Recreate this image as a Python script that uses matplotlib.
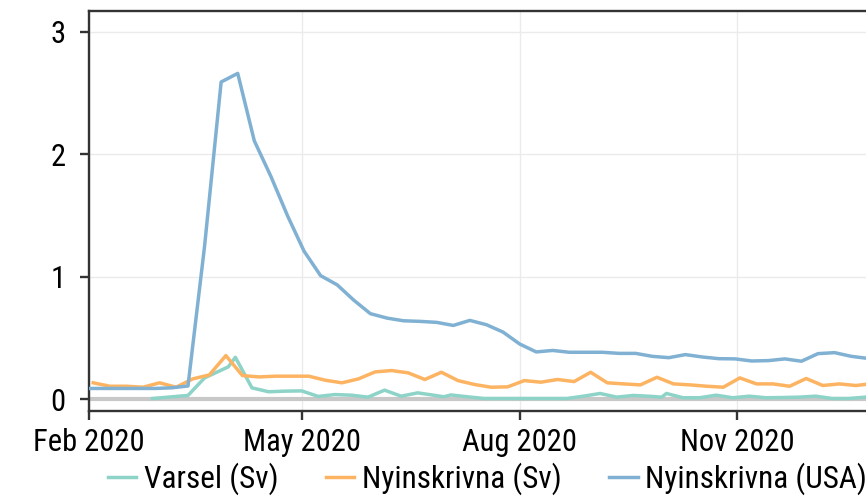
import matplotlib
matplotlib.use('Agg')
import numpy as np
import pandas as pd
from matplotlib import pyplot as plt

plt.rcParams['font.family'] = ['Roboto Condensed', 'Liberation Sans', 'DejaVu Sans']

# Nyinskrivna (USA), veckovis (lördagar)
usa_start = '2020-02-01'
usa_values = [0.09, 0.09, 0.09, 0.09, 0.09, 0.095, 0.11, 1.25, 2.59, 2.66,
              2.11, 1.82, 1.50, 1.21, 1.01, 0.935, 0.81, 0.70, 0.664, 0.642,
              0.637, 0.629, 0.604, 0.645, 0.61, 0.55, 0.453, 0.388, 0.40, 0.385,
              0.385, 0.385, 0.376, 0.376, 0.352, 0.341, 0.366, 0.347, 0.333, 0.331,
              0.314, 0.317, 0.331, 0.312, 0.374, 0.382, 0.352, 0.335]

# Nyinskrivna (Sv), veckovis (måndagar)
sv_start = '2020-02-03'
sv_values = [0.136, 0.108, 0.108, 0.10, 0.136, 0.10, 0.168, 0.20, 0.358, 0.195,
             0.184, 0.19, 0.19, 0.19, 0.157, 0.136, 0.168, 0.225, 0.236, 0.217,
             0.163, 0.222, 0.154, 0.122, 0.10, 0.103, 0.154, 0.141, 0.163, 0.146,
             0.222, 0.136, 0.127, 0.119, 0.181, 0.127, 0.119, 0.108, 0.10, 0.176,
             0.127, 0.127, 0.108, 0.171, 0.114, 0.127, 0.114, 0.13]

# Varsel (Sv)
varsel_dates = ['2020-02-28', '2020-03-14', '2020-03-21', '2020-03-31', '2020-04-03',
                '2020-04-10', '2020-04-17', '2020-04-24', '2020-05-01', '2020-05-08',
                '2020-05-15', '2020-05-22', '2020-05-29', '2020-06-05', '2020-06-12',
                '2020-06-19', '2020-06-26', '2020-06-30', '2020-07-03', '2020-07-10',
                '2020-07-17', '2020-07-24', '2020-07-31', '2020-08-07', '2020-08-14',
                '2020-08-21', '2020-08-28', '2020-09-04', '2020-09-11', '2020-09-18',
                '2020-09-25', '2020-09-30', '2020-10-02', '2020-10-09', '2020-10-16',
                '2020-10-23', '2020-10-30', '2020-11-06', '2020-11-13', '2020-11-20',
                '2020-11-27', '2020-12-04', '2020-12-11', '2020-12-18', '2020-12-25']
varsel_values = [0.008, 0.033, 0.176, 0.266, 0.344, 0.095, 0.063, 0.068, 0.07, 0.025,
                 0.04, 0.035, 0.019, 0.076, 0.027, 0.054, 0.034, 0.022, 0.037, 0.022,
                 0.008, 0.008, 0.008, 0.008, 0.008, 0.008, 0.027, 0.049, 0.019, 0.033,
                 0.026, 0.019, 0.049, 0.014, 0.014, 0.035, 0.014, 0.027, 0.014, 0.016,
                 0.019, 0.027, 0.008, 0.008, 0.019]

tick_dates = ['2020-02-01', '2020-05-01', '2020-08-01', '2020-11-01']
tick_labels = ['Feb 2020', 'May 2020', 'Aug 2020', 'Nov 2020']

usa_dates = pd.date_range(usa_start, periods=len(usa_values), freq='7D')
sv_dates = pd.date_range(sv_start, periods=len(sv_values), freq='7D')

fig = plt.figure(figsize=(8.66, 5), dpi=100)
# axeln fortsätter till höger om bilden (beskuren)
ax = fig.add_axes([88.5 / 866, 89 / 500, (892 - 88.5) / 866, 400 / 500])

ax.axhline(0, color='#c8c8c8', lw=3, zorder=1)
ax.plot(pd.to_datetime(varsel_dates), varsel_values, color='#8dd3c7', lw=2.5,
        label='Varsel (Sv)', zorder=3)
ax.plot(sv_dates, sv_values, color='#fdb462', lw=2.5, label='Nyinskrivna (Sv)', zorder=3)
ax.plot(usa_dates, usa_values, color='#80b1d3', lw=2.5, label='Nyinskrivna (USA)', zorder=3)

x0 = pd.Timestamp('2020-02-01')
ax.set_xlim(x0, x0 + pd.Timedelta(days=(892 - 88.5) / 2.3686))
ax.set_ylim(-0.094, 3.169)

ax.set_xticks(pd.to_datetime(tick_dates))
ax.set_xticklabels(tick_labels)
ax.set_yticks([0, 1, 2, 3])

ax.grid(True, color='#ebebeb', lw=1, zorder=0)
ax.set_axisbelow(True)

for side in ['left', 'top', 'bottom']:
    ax.spines[side].set_color('#333333')
    ax.spines[side].set_linewidth(1.7)
ax.spines['right'].set_visible(False)

ax.tick_params(axis='both', labelsize=22, color='#333333', width=1.7, length=6.5,
               labelcolor='black')
ax.tick_params(axis='x', pad=6)
ax.tick_params(axis='y', pad=10)

fig.legend(loc='center', bbox_to_anchor=(487.5 / 866, 1 - 479 / 500), ncol=3,
           frameon=False, fontsize=22.5, handlelength=0.92, handletextpad=0.25,
           columnspacing=1.5, borderaxespad=0, borderpad=0)

fig.savefig('out.png', dpi=100)
